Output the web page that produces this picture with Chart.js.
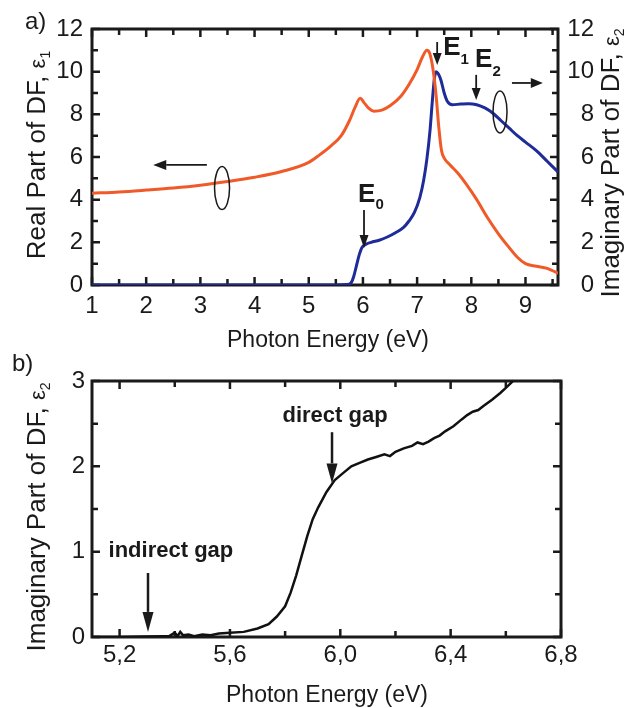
<!DOCTYPE html>
<html>
<head>
<meta charset="utf-8">
<script src="https://cdn.jsdelivr.net/npm/chart.js@4.4.0/dist/chart.umd.min.js"></script>
<style>
  html, body { margin: 0; padding: 0; background: #fff; }
  #wrap { position: relative; width: 637px; height: 708px; }
  canvas { position: absolute; left: 0; }
  #chart-a { top: 0; }
  #chart-b { top: 354px; }
</style>
</head>
<body>
<div id="wrap">
  <canvas id="chart-a" width="637" height="354"></canvas>
  <canvas id="chart-b" width="637" height="354"></canvas>
</div>
<script>
// a) real part eps1 (left axis) and imaginary part eps2 (right axis)
const eps1Energy = [1.0, 1.5, 2.0, 2.5, 3.0, 3.5, 4.0, 4.5, 5.0, 5.2, 5.4, 5.6, 5.75, 5.85, 5.95, 6.02, 6.1, 6.2, 6.35, 6.5, 6.7, 6.85, 7.0, 7.1, 7.18, 7.24, 7.3, 7.35, 7.4, 7.45, 7.5, 7.6, 7.75, 7.9, 8.1, 8.3, 8.5, 8.7, 8.85, 9.0, 9.2, 9.4, 9.6];
const eps1Values = [4.30, 4.36, 4.45, 4.55, 4.68, 4.85, 5.05, 5.32, 5.75, 6.1, 6.5, 7.0, 7.7, 8.3, 8.75, 8.55, 8.3, 8.15, 8.2, 8.4, 8.85, 9.4, 10.1, 10.7, 11.0, 10.8, 10.0, 8.9, 7.4, 6.3, 5.95, 5.65, 5.25, 4.75, 4.0, 3.15, 2.4, 1.75, 1.3, 1.0, 0.88, 0.78, 0.55];
const eps2Energy = [1.0, 5.5, 5.7, 5.78, 5.83, 5.88, 5.93, 5.98, 6.05, 6.15, 6.3, 6.45, 6.6, 6.75, 6.85, 6.95, 7.05, 7.12, 7.18, 7.24, 7.28, 7.32, 7.35, 7.39, 7.44, 7.5, 7.56, 7.65, 7.8, 7.95, 8.1, 8.25, 8.4, 8.55, 8.7, 8.85, 9.0, 9.2, 9.4, 9.6];
const eps2Values = [0, 0, 0.02, 0.1, 0.4, 0.9, 1.4, 1.75, 1.9, 2.0, 2.1, 2.25, 2.45, 2.7, 3.0, 3.4, 4.1, 4.9, 5.9, 7.3, 8.6, 9.7, 10.0, 9.9, 9.6, 9.0, 8.6, 8.45, 8.48, 8.5, 8.45, 8.3, 8.05, 7.7, 7.35, 7.0, 6.7, 6.3, 5.8, 5.3];

// b) eps2 near the absorption edge
const gapEnergy = [5.10, 5.20, 5.30, 5.36, 5.38, 5.40, 5.41, 5.42, 5.43, 5.45, 5.47, 5.50, 5.53, 5.56, 5.60, 5.65, 5.70, 5.74, 5.77, 5.80, 5.82, 5.84, 5.86, 5.88, 5.90, 5.92, 5.95, 5.98, 6.01, 6.04, 6.07, 6.10, 6.13, 6.16, 6.18, 6.20, 6.23, 6.26, 6.28, 6.30, 6.32, 6.34, 6.36, 6.38, 6.41, 6.44, 6.46, 6.48, 6.50, 6.52, 6.55, 6.58, 6.60, 6.62, 6.64, 6.66];
const gapValues = [0.0, 0.0, 0.005, 0.01, 0.01, 0.05, 0.01, 0.06, 0.02, 0.03, 0.01, 0.03, 0.02, 0.04, 0.05, 0.06, 0.10, 0.15, 0.24, 0.36, 0.52, 0.72, 0.95, 1.18, 1.38, 1.52, 1.70, 1.84, 1.92, 2.0, 2.04, 2.08, 2.11, 2.14, 2.12, 2.17, 2.21, 2.24, 2.28, 2.26, 2.29, 2.33, 2.36, 2.41, 2.47, 2.55, 2.60, 2.64, 2.66, 2.71, 2.78, 2.86, 2.92, 2.98, 3.05, 3.12];

// tick labels
const ticksAx = [1, 2, 3, 4, 5, 6, 7, 8, 9];
const ticksAy = [0, 2, 4, 6, 8, 10, 12];
const ticksBx = [5.2, 5.6, 6.0, 6.4, 6.8];
const ticksBy = [0, 1, 2, 3];

const FONT = "'Liberation Sans', Arial, Helvetica, sans-serif";
const INK = "#1a1a1a";

const toPoints = (xs, ys) => xs.map((x, i) => ({ x: x, y: ys[i] }));
const fixTicks = list => scale => { scale.ticks = list.map(v => ({ value: v })); };

// draw a run of text pieces (main text + subscript), optionally rotated
function richText(ctx, x, y, rot, parts, align) {
  ctx.save();
  ctx.translate(x, y);
  ctx.rotate(rot);
  ctx.textBaseline = "alphabetic";
  ctx.textAlign = "left";
  let total = 0;
  parts.forEach(p => { ctx.font = p[1]; total += ctx.measureText(p[0]).width; });
  let cx = align === "left" ? 0 : -total / 2;
  parts.forEach(p => {
    ctx.font = p[1];
    ctx.fillText(p[0], cx, p[2]);
    cx += ctx.measureText(p[0]).width;
  });
  ctx.restore();
}

function arrow(ctx, x1, y1, x2, y2, lw, headLen, headHalf) {
  const ang = Math.atan2(y2 - y1, x2 - x1);
  const bx = x2 - headLen * Math.cos(ang), by = y2 - headLen * Math.sin(ang);
  ctx.lineWidth = lw;
  ctx.beginPath(); ctx.moveTo(x1, y1); ctx.lineTo(bx, by); ctx.stroke();
  ctx.beginPath();
  ctx.moveTo(x2, y2);
  ctx.lineTo(bx + headHalf * Math.sin(ang), by - headHalf * Math.cos(ang));
  ctx.lineTo(bx - headHalf * Math.sin(ang), by + headHalf * Math.cos(ang));
  ctx.closePath();
  ctx.fill();
}

// box around the plot with inward ticks on all four sides
function framePlugin(xMajor, xMinor, yMajor, yMinor) {
  return {
    id: "frame",
    beforeDatasetsDraw(chart) {
      const { ctx, chartArea: a } = chart;
      const xs = chart.scales.x, ys = chart.scales.y;
      const isMajor = (v, step) => Math.abs(v / step - Math.round(v / step)) < 1e-6;
      ctx.save();
      ctx.strokeStyle = INK;
      ctx.lineWidth = 2.5;
      ctx.beginPath();
      for (let i = Math.ceil(xs.min / xMinor - 1e-9); i * xMinor <= xs.max + 1e-9; i++) {
        const v = i * xMinor, p = xs.getPixelForValue(v), len = isMajor(v, xMajor) ? 8 : 6;
        ctx.moveTo(p, a.bottom); ctx.lineTo(p, a.bottom - len);
        ctx.moveTo(p, a.top); ctx.lineTo(p, a.top + len);
      }
      for (let i = Math.ceil(ys.min / yMinor - 1e-9); i * yMinor <= ys.max + 1e-9; i++) {
        const v = i * yMinor, p = ys.getPixelForValue(v), len = isMajor(v, yMajor) ? 8 : 6;
        ctx.moveTo(a.left, p); ctx.lineTo(a.left + len, p);
        ctx.moveTo(a.right, p); ctx.lineTo(a.right - len, p);
      }
      ctx.stroke();
      ctx.lineWidth = 3;
      ctx.strokeRect(a.left, a.top, a.right - a.left, a.bottom - a.top);
      ctx.restore();
    }
  };
}

const tickFont = { family: FONT, size: 24 };

// annotations of panel a
const annotA = {
  id: "annotA",
  afterDraw(chart) {
    const { ctx } = chart;
    const px = v => chart.scales.x.getPixelForValue(v);
    const py = v => chart.scales.y.getPixelForValue(v);
    ctx.save();
    ctx.fillStyle = INK;
    ctx.strokeStyle = INK;
    richText(ctx, 25, 29, 0, [["a)", `24px ${FONT}`, 0]], "left");
    richText(ctx, 45, 155, -Math.PI / 2, [["Real Part of DF, ", `26px ${FONT}`, 0], ["ε", `22px ${FONT}`, 0], ["1", `14px ${FONT}`, 5]]);
    richText(ctx, 619, 163, -Math.PI / 2, [["Imaginary Part of DF, ", `26px ${FONT}`, 0], ["ε", `22px ${FONT}`, 0], ["2", `14px ${FONT}`, 5]]);
    richText(ctx, 328, 347, 0, [["Photon Energy (eV)", `23px ${FONT}`, 0]]);

    const bold = `bold 26px ${FONT}`, sub = `bold 15px ${FONT}`;
    richText(ctx, px(5.91), py(3.89), 0, [["E", bold, 0], ["0", sub, 7]], "left");
    richText(ctx, px(7.48), py(10.78), 0, [["E", bold, 0], ["1", sub, 9]], "left");
    richText(ctx, px(8.07), py(10.22), 0, [["E", bold, 0], ["2", sub, 9]], "left");
    arrow(ctx, px(6.02), py(3.52), px(6.02), py(1.73), 1.8, 13, 4.5);
    arrow(ctx, px(7.37), py(11.39), px(7.37), py(10.31), 1.8, 12, 4.5);
    arrow(ctx, px(8.09), py(9.85), px(8.09), py(8.67), 1.8, 12, 4.5);
    arrow(ctx, px(3.12), py(5.63), px(2.13), py(5.63), 1.8, 13, 5);
    arrow(ctx, px(8.75), py(9.47), px(9.32), py(9.47), 1.8, 12, 5);

    ctx.lineWidth = 1.5;
    ctx.beginPath(); ctx.ellipse(px(3.40), py(4.55), 7.5, 21.5, 0, 0, 2 * Math.PI); ctx.stroke();
    ctx.beginPath(); ctx.ellipse(px(8.53), py(8.11), 7, 21, 0, 0, 2 * Math.PI); ctx.stroke();
    ctx.restore();
  }
};

// annotations of panel b
const annotB = {
  id: "annotB",
  afterDraw(chart) {
    const { ctx } = chart;
    const px = v => chart.scales.x.getPixelForValue(v);
    const py = v => chart.scales.y.getPixelForValue(v);
    ctx.save();
    ctx.fillStyle = INK;
    ctx.strokeStyle = INK;
    richText(ctx, 12, 17, 0, [["b)", `24px ${FONT}`, 0]], "left");
    richText(ctx, 45, 163, -Math.PI / 2, [["Imaginary Part of DF, ", `26px ${FONT}`, 0], ["ε", `22px ${FONT}`, 0], ["2", `14px ${FONT}`, 5]]);
    richText(ctx, 327, 348, 0, [["Photon Energy (eV)", `23px ${FONT}`, 0]]);

    const bold = `bold 22px ${FONT}`;
    richText(ctx, px(5.386), py(0.94), 0, [["indirect gap", bold, 0]]);
    richText(ctx, px(5.981), py(2.52), 0, [["direct gap", bold, 0]]);
    arrow(ctx, px(5.303), py(0.75), px(5.303), py(0.06), 2.5, 20, 5.5);
    arrow(ctx, px(5.97), py(2.40), px(5.97), py(1.80), 2.5, 20, 5.5);
    ctx.restore();
  }
};

new Chart(document.getElementById("chart-a").getContext("2d"), {
  type: "line",
  data: {
    datasets: [
      {
        label: "ε1",
        data: toPoints(eps1Energy, eps1Values),
        borderColor: "#f05a28",
        borderWidth: 3,
        pointRadius: 0,
        cubicInterpolationMode: "monotone",
        yAxisID: "y"
      },
      {
        label: "ε2",
        data: toPoints(eps2Energy, eps2Values),
        borderColor: "#1f2b98",
        borderWidth: 3,
        pointRadius: 0,
        cubicInterpolationMode: "monotone",
        yAxisID: "y2"
      }
    ]
  },
  options: {
    responsive: false,
    animation: false,
    layout: { padding: { top: 29, left: 0, right: 43, bottom: 0 } },
    plugins: { legend: { display: false }, tooltip: { enabled: false } },
    scales: {
      x: {
        type: "linear", min: 1, max: 9.6,
        grid: { display: false, drawTicks: false }, border: { display: false },
        afterBuildTicks: fixTicks(ticksAx),
        afterFit: s => { s.height = 354 - 285; },
        ticks: { font: tickFont, color: INK, padding: 7, maxRotation: 0, autoSkip: false }
      },
      y: {
        position: "left", min: 0, max: 12,
        grid: { display: false, drawTicks: false }, border: { display: false },
        afterBuildTicks: fixTicks(ticksAy),
        afterFit: s => { s.width = 92; },
        ticks: { font: tickFont, color: INK, padding: 9 }
      },
      y2: {
        position: "right", min: 0, max: 12,
        grid: { display: false, drawTicks: false }, border: { display: false },
        afterBuildTicks: fixTicks(ticksAy),
        afterFit: s => { s.width = 594 - 558; },
        ticks: { font: tickFont, color: INK, padding: 9, crossAlign: "far" }
      }
    }
  },
  plugins: [framePlugin(1, 0.5, 2, 1), annotA]
});

new Chart(document.getElementById("chart-b").getContext("2d"), {
  type: "line",
  data: {
    datasets: [{
      label: "ε2",
      data: toPoints(gapEnergy, gapValues),
      borderColor: "#111111",
      borderWidth: 2.5,
      pointRadius: 0,
      tension: 0
    }]
  },
  options: {
    responsive: false,
    animation: false,
    layout: { padding: { top: 27, left: 0, right: 76, bottom: 0 } },
    plugins: { legend: { display: false }, tooltip: { enabled: false } },
    scales: {
      x: {
        type: "linear", min: 5.1, max: 6.8,
        grid: { display: false, drawTicks: false }, border: { display: false },
        afterBuildTicks: fixTicks(ticksBx),
        afterFit: s => { s.height = 354 - 283; },
        ticks: {
          font: tickFont, color: INK, padding: 4, maxRotation: 0, autoSkip: false,
          callback: v => v.toFixed(1).replace(".", ",")
        }
      },
      y: {
        position: "left", min: 0, max: 3,
        grid: { display: false, drawTicks: false }, border: { display: false },
        afterBuildTicks: fixTicks(ticksBy),
        afterFit: s => { s.width = 92; },
        ticks: { font: tickFont, color: INK, padding: 7 }
      }
    }
  },
  plugins: [framePlugin(0.4, 0.2, 1, 0.5), annotB]
});
</script>
</body>
</html>
